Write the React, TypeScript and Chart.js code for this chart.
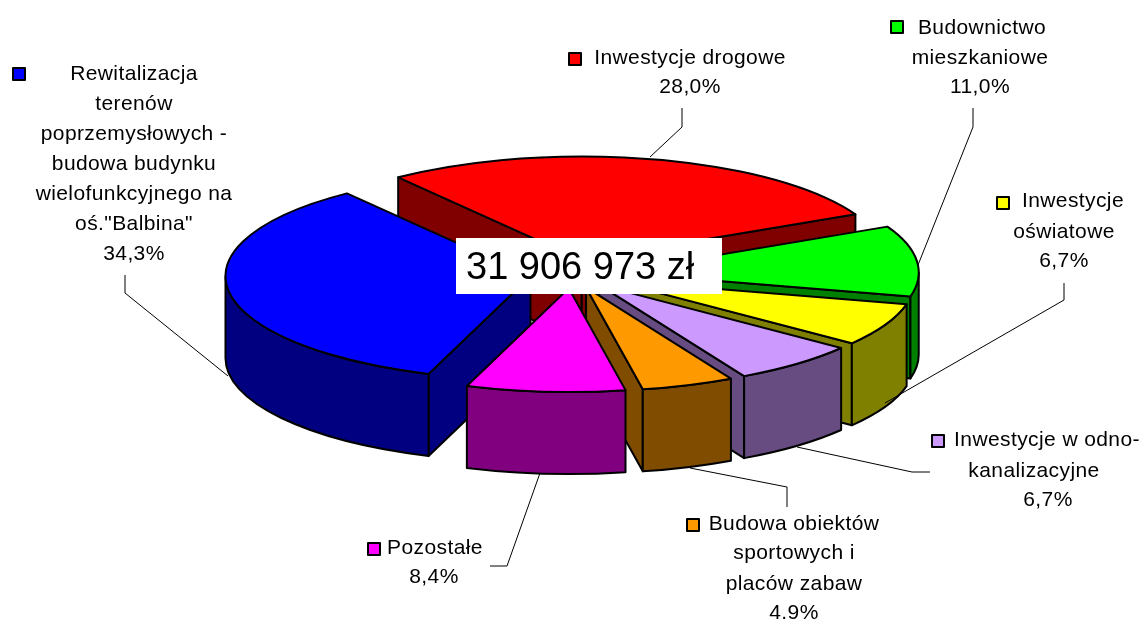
import React, { useEffect, useRef } from "react";
import { Chart, registerables } from "chart.js";

Chart.register(...registerables);

// ---- data ----
const categories = [
  "Inwestycje drogowe",
  "Budownictwo mieszkaniowe",
  "Inwestycje oświatowe",
  "Inwestycje w odno-kanalizacyjne",
  "Budowa obiektów sportowych i placów zabaw",
  "Pozostałe",
  "Rewitalizacja terenów poprzemysłowych - budowa budynku wielofunkcyjnego na oś.\"Balbina\"",
];
const values = [28.0, 11.0, 6.7, 6.7, 4.9, 8.4, 34.3];
const percentLabels = ["28,0%", "11,0%", "6,7%", "6,7%", "4.9%", "8,4%", "34,3%"];
const topColors = ["#ff0000", "#00ff00", "#ffff00", "#cc99ff", "#ff9900", "#ff00ff", "#0000ff"];
const wallColors = ["#800000", "#008000", "#808000", "#664c80", "#804c00", "#800080", "#000080"];
const totalLabel = "31 906 973 zł";

// ---- layout ----
const W = 1142;
const H = 621;
const CENTER_X = 572;
const CENTER_Y = 274;
const RADIUS = 305;
const SQUASH = 0.34;
const DEPTH = 82;
const EXPLODE = 42;
const ROTATION = -37;
const FONT = '"Liberation Sans", Arial, sans-serif';

type Line = [string, number, number];
type Callout = { key: [number, number]; lines: Line[]; leader: [number, number][] };

const callouts: Callout[] = [
  { key: [569, 53], lines: [["Inwestycje drogowe", 690, 58]], leader: [[682, 108], [682, 127], [650, 157]] },
  { key: [891, 21], lines: [["Budownictwo", 982, 28], ["mieszkaniowe", 980, 58]], leader: [[973, 108], [973, 127], [918, 265]] },
  { key: [997, 197], lines: [["Inwestycje", 1073, 201], ["oświatowe", 1064, 232]], leader: [[1064, 283], [1064, 300], [885, 403]] },
  { key: [932, 435], lines: [["Inwestycje w odno-", 1047, 440], ["kanalizacyjne", 1034, 471]], leader: [[797, 447], [912, 472], [930, 472]] },
  { key: [687, 519], lines: [["Budowa obiektów", 794, 524], ["sportowych i", 794, 553], ["placów zabaw", 794, 584]], leader: [[690, 468], [787, 487], [787, 507]] },
  { key: [368, 543], lines: [["Pozostałe", 435, 548]], leader: [[490, 566], [507, 566], [540, 473]] },
  { key: [13, 68], lines: [["Rewitalizacja", 134, 74], ["terenów", 134, 104], ["poprzemysłowych -", 134, 134], ["budowa budynku", 134, 164], ["wielofunkcyjnego na", 134, 194], ["oś.\"Balbina\"", 134, 224]], leader: [[125, 275], [125, 293], [228, 376]] },
];
const percentPos: [number, number][] = [[690, 87], [980, 87], [1064, 261], [1048, 500], [794, 613], [434, 577], [134, 254]];

function sliceGeometry(arc: any) {
  const { startAngle, endAngle, outerRadius } = arc;
  const mid = (startAngle + endAngle) / 2;
  const cx = CENTER_X + Math.cos(mid) * EXPLODE;
  const cy = CENTER_Y + Math.sin(mid) * EXPLODE * SQUASH;
  return { startAngle, endAngle, mid, cx, cy, a: outerRadius, b: outerRadius * SQUASH };
}

const pie3d = {
  id: "pie3d",
  beforeDatasetsDraw(chart: any) {
    const ctx: CanvasRenderingContext2D = chart.ctx;
    const arcs: any[] = chart.getDatasetMeta(0).data;
    const order = arcs.map((_, i) => i).sort((p, q) => {
      const gp = sliceGeometry(arcs[p]);
      const gq = sliceGeometry(arcs[q]);
      return Math.sin(gp.mid) - Math.sin(gq.mid);
    });
    ctx.save();
    ctx.lineWidth = 2;
    ctx.lineJoin = "round";
    ctx.strokeStyle = "#000";
    for (const i of order) {
      const g = sliceGeometry(arcs[i]);
      ctx.fillStyle = wallColors[i];
      const face = (phi: number) => {
        const x = g.cx + g.a * Math.cos(phi);
        const y = g.cy + g.b * Math.sin(phi);
        ctx.beginPath();
        ctx.moveTo(g.cx, g.cy);
        ctx.lineTo(x, y);
        ctx.lineTo(x, y + DEPTH);
        ctx.lineTo(g.cx, g.cy + DEPTH);
        ctx.closePath();
        ctx.fill();
        ctx.stroke();
      };
      if (Math.cos(g.startAngle) < 0) face(g.startAngle);
      if (Math.cos(g.endAngle) > 0) face(g.endAngle);
      const lo = Math.max(g.startAngle, 0);
      const hi = Math.min(g.endAngle, Math.PI);
      if (hi > lo) {
        ctx.beginPath();
        ctx.ellipse(g.cx, g.cy, g.a, g.b, 0, lo, hi);
        ctx.ellipse(g.cx, g.cy + DEPTH, g.a, g.b, 0, hi, lo, true);
        ctx.closePath();
        ctx.fill();
        ctx.stroke();
      }
    }
    ctx.restore();
  },
  // each slice is the library's own arc, moved out and flattened into the top plane
  beforeDatasetDraw(chart: any) {
    const ctx: CanvasRenderingContext2D = chart.ctx;
    const arcs: any[] = chart.getDatasetMeta(0).data;
    arcs.forEach((arc) => {
      const g = sliceGeometry(arc);
      ctx.save();
      ctx.translate(g.cx, g.cy);
      ctx.scale(1, SQUASH);
      ctx.translate(-arc.x, -arc.y);
      arc.draw(ctx);
      ctx.restore();
    });
    return false;
  },
  afterDatasetsDraw(chart: any) {
    const ctx: CanvasRenderingContext2D = chart.ctx;
    const arcs: any[] = chart.getDatasetMeta(0).data;
    ctx.save();
    ctx.lineWidth = 2;
    ctx.lineJoin = "round";
    ctx.strokeStyle = "#000";
    arcs.forEach((arc) => {
      const g = sliceGeometry(arc);
      ctx.beginPath();
      ctx.moveTo(g.cx, g.cy);
      ctx.ellipse(g.cx, g.cy, g.a, g.b, 0, g.startAngle, g.endAngle);
      ctx.closePath();
      ctx.stroke();
    });

    // leader lines
    ctx.lineWidth = 1;
    callouts.forEach((c) => {
      ctx.beginPath();
      c.leader.forEach(([x, y], i) => (i ? ctx.lineTo(x, y) : ctx.moveTo(x, y)));
      ctx.stroke();
    });

    // callout text and keys
    ctx.fillStyle = "#000";
    ctx.font = `21px ${FONT}`;
    (ctx as any).letterSpacing = "0.4px";
    ctx.textAlign = "center";
    ctx.textBaseline = "middle";
    callouts.forEach((c, i) => {
      c.lines.forEach(([t, x, y]) => ctx.fillText(t, x, y));
      ctx.fillText(percentLabels[i], percentPos[i][0], percentPos[i][1]);
      ctx.save();
      ctx.fillStyle = topColors[i];
      ctx.lineWidth = 2;
      ctx.fillRect(c.key[0], c.key[1], 12, 12);
      ctx.strokeRect(c.key[0], c.key[1], 12, 12);
      ctx.restore();
    });
    (ctx as any).letterSpacing = "0px";

    // total box
    ctx.fillStyle = "#fff";
    ctx.fillRect(456, 238, 266, 56);
    ctx.fillStyle = "#000";
    ctx.font = `38px ${FONT}`;
    ctx.textAlign = "left";
    ctx.textBaseline = "alphabetic";
    ctx.fillText(totalLabel, 466, 279);
    ctx.restore();
  },
};

export default function App() {
  const ref = useRef<HTMLCanvasElement>(null);
  useEffect(() => {
    const chart = new Chart(ref.current!, {
      type: "pie",
      data: {
        labels: categories,
        datasets: [
          {
            data: values,
            backgroundColor: topColors,
            borderWidth: 0,
            radius: RADIUS,
            clip: false,
          } as any,
        ],
      },
      options: {
        responsive: false,
        animation: false,
        events: [],
        rotation: ROTATION,
        plugins: { legend: { display: false }, tooltip: { enabled: false }, title: { display: false } },
      },
      plugins: [pie3d],
    });
    return () => chart.destroy();
  }, []);
  return (
    <div style={{ position: "absolute", left: 0, top: 0, width: W, height: H, background: "#fff" }}>
      <canvas ref={ref} width={W} height={H} style={{ display: "block" }} />
    </div>
  );
}
